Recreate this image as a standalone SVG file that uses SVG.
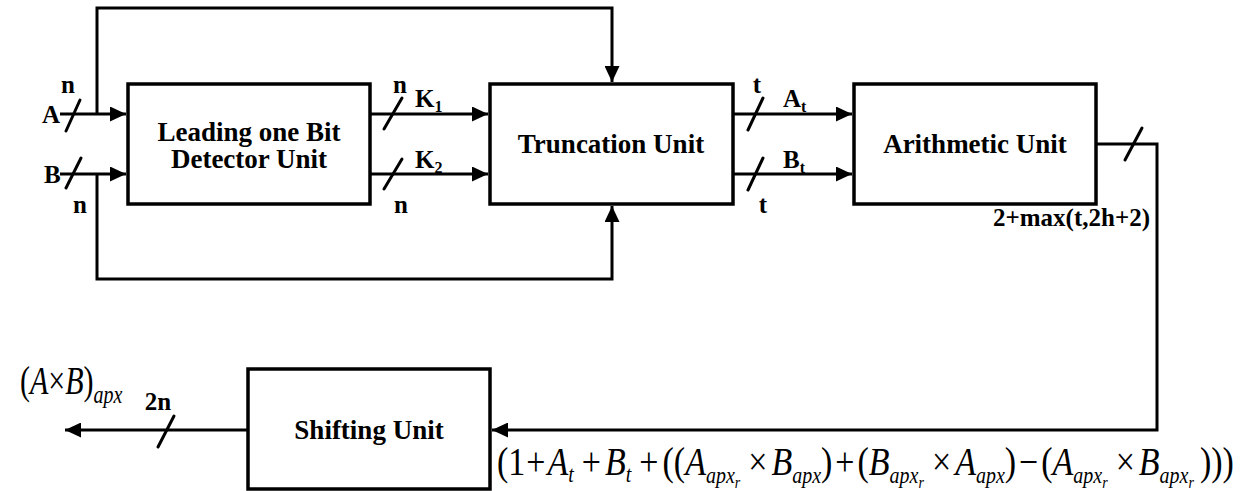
<svg xmlns="http://www.w3.org/2000/svg" width="1251" height="491" viewBox="0 0 1251 491">
<style>
.box{fill:#fff;stroke:#000;stroke-width:3.5}
.ln{fill:none;stroke:#000;stroke-width:3}
.sl{stroke:#000;stroke-width:3;stroke-linecap:round}
.bt{font-family:"Liberation Serif","Times New Roman",serif;font-weight:bold;font-size:27px;text-anchor:middle}
.lb{font-family:"Liberation Serif","Times New Roman",serif;font-weight:bold;font-size:25px}
.sb{font-size:16px}
.f{font-family:"Liberation Serif","Times New Roman",serif;font-size:34px}
.g{font-family:"Liberation Serif","Times New Roman",serif;font-size:30px}
.i{font-style:italic}
.s{font-style:italic;font-size:20px}
.ss{font-style:italic;font-size:14px}
</style>
<defs>
<marker id="ah" markerUnits="userSpaceOnUse" markerWidth="16" markerHeight="15" refX="16" refY="7.5" orient="auto">
<path d="M0,0 L16,7.5 L0,15 z" fill="#000"/>
</marker>
</defs>
<g id="connectors">
<path class="ln" d="M60,114 H126" marker-end="url(#ah)"/>
<path class="ln" d="M60,174 H126" marker-end="url(#ah)"/>
<path class="ln" d="M97,114 V8 H612 V82" marker-end="url(#ah)"/>
<path class="ln" d="M97,174 V279 H612 V206" marker-end="url(#ah)"/>
<path class="ln" d="M370,114 H488" marker-end="url(#ah)"/>
<path class="ln" d="M370,174 H488" marker-end="url(#ah)"/>
<path class="ln" d="M733,114 H852" marker-end="url(#ah)"/>
<path class="ln" d="M733,174 H852" marker-end="url(#ah)"/>
<path class="ln" d="M1096,144 H1157 V430 H492" marker-end="url(#ah)"/>
<path class="ln" d="M248,430 H65" marker-end="url(#ah)"/>
<line class="sl" x1="66" y1="131" x2="80" y2="100"/>
<line class="sl" x1="66" y1="188" x2="81" y2="158"/>
<line class="sl" x1="384" y1="129" x2="402" y2="98"/>
<line class="sl" x1="384" y1="189" x2="402" y2="159"/>
<line class="sl" x1="748" y1="130" x2="763" y2="98"/>
<line class="sl" x1="748" y1="190" x2="763" y2="158"/>
<line class="sl" x1="1125" y1="160" x2="1142" y2="128"/>
<line class="sl" x1="158" y1="447" x2="174" y2="416"/>
</g>
<g id="node-lod">
<rect class="box" x="128" y="84" width="242" height="120"/>
<text class="bt" x="249" y="141">Leading one Bit</text>
<text class="bt" x="249" y="168">Detector Unit</text>
</g>
<g id="node-trunc">
<rect class="box" x="490" y="84" width="243" height="120"/>
<text class="bt" x="611" y="153">Truncation Unit</text>
</g>
<g id="node-arith">
<rect class="box" x="854" y="84" width="242" height="120"/>
<text class="bt" x="975" y="153">Arithmetic Unit</text>
</g>
<g id="node-shift">
<rect class="box" x="248" y="369" width="242" height="120"/>
<text class="bt" x="369" y="439">Shifting Unit</text>
</g>
<g id="labels">
<text class="lb" x="68" y="93" text-anchor="middle">n</text>
<text class="lb" x="42" y="123">A</text>
<text class="lb" x="44" y="183">B</text>
<text class="lb" x="80" y="213" text-anchor="middle">n</text>
<text class="lb" x="400" y="93" text-anchor="middle">n</text>
<text class="lb" x="415" y="107">K<tspan class="sb" dy="5">1</tspan></text>
<text class="lb" x="415" y="168">K<tspan class="sb" dy="5">2</tspan></text>
<text class="lb" x="401" y="213" text-anchor="middle">n</text>
<text class="lb" x="757" y="93" text-anchor="middle">t</text>
<text class="lb" x="783" y="107">A<tspan class="sb" dy="5">t</tspan></text>
<text class="lb" x="783" y="168">B<tspan class="sb" dy="5">t</tspan></text>
<text class="lb" x="763" y="213" text-anchor="middle">t</text>
<text class="lb" x="1150" y="226" text-anchor="end">2+max(t,2h+2)</text>
<text class="lb" x="158" y="410" text-anchor="middle">2n</text>
<text class="g" transform="translate(20,394) scale(1,1.3)">(<tspan class="i">A</tspan>×<tspan class="i">B</tspan>)<tspan class="s" dy="7">apx</tspan></text>
<text class="f" transform="translate(497,475) scale(1,1.15)">(1<tspan dx="1">+</tspan><tspan class="i" dx="2">A</tspan><tspan class="s" dy="6">t</tspan><tspan dy="-6" dx="8">+</tspan><tspan class="i" dx="4">B</tspan><tspan class="s" dy="6">t</tspan><tspan dy="-6" dx="8">+</tspan><tspan dx="4">((</tspan><tspan class="i">A</tspan><tspan class="s" dy="7">apx</tspan><tspan class="ss" dy="4">r</tspan><tspan dy="-11" dx="8">×</tspan><tspan class="i" dx="4">B</tspan><tspan class="s" dy="7">apx</tspan><tspan dy="-7">)</tspan><tspan dx="3">+</tspan><tspan dx="3">(</tspan><tspan class="i">B</tspan><tspan class="s" dy="7">apx</tspan><tspan class="ss" dy="4">r</tspan><tspan dy="-11" dx="8">×</tspan><tspan class="i" dx="4">A</tspan><tspan class="s" dy="7">apx</tspan><tspan dy="-7">)</tspan><tspan dx="3">−</tspan><tspan dx="3">(</tspan><tspan class="i">A</tspan><tspan class="s" dy="7">apx</tspan><tspan class="ss" dy="4">r</tspan><tspan dy="-11" dx="8">×</tspan><tspan class="i" dx="4">B</tspan><tspan class="s" dy="7">apx</tspan><tspan class="ss" dy="4">r</tspan><tspan dy="-11" dx="6">)))</tspan></text>
</g>
</svg>
